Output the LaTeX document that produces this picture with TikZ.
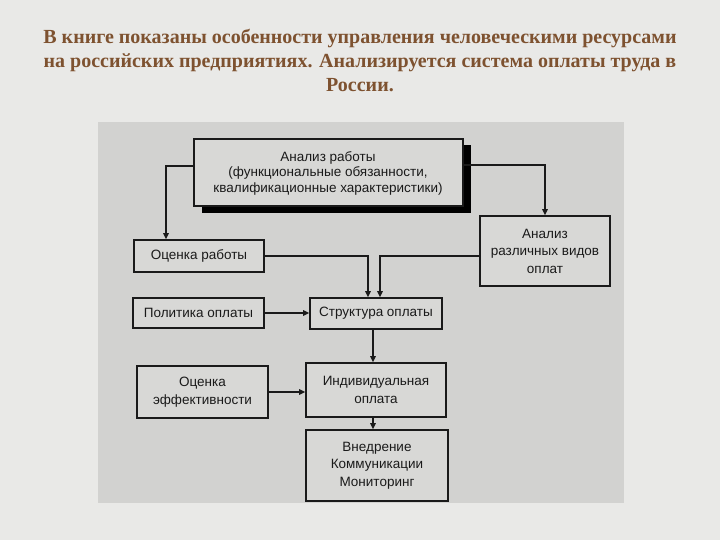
\documentclass[tikz,border=0pt]{standalone}
\usepackage{fontspec}
\setmainfont{Liberation Serif}
\newfontfamily\diagfont{Liberation Sans}
\usetikzlibrary{arrows.meta,calc}
\definecolor{bgcol}{HTML}{E9E9E7}
\definecolor{panelcol}{HTML}{D2D2D0}
\definecolor{boxcol}{HTML}{D8D8D6}
\definecolor{titlecol}{HTML}{7E5230}
\definecolor{inkcol}{HTML}{1A1A1A}
\begin{document}
\begin{tikzpicture}[x=1pt,y=-1pt,
  box/.style={draw=inkcol,line width=1.7pt,fill=boxcol,align=center,inner sep=0pt,
    font=\diagfont\fontsize{13.5}{17.5}\selectfont,text=inkcol},
  arr/.style={draw=inkcol,line width=1.4pt,-{Triangle[length=6pt,width=5.5pt]}}]
\useasboundingbox (0,0) rectangle (720,540);
\fill[bgcol] (0,0) rectangle (720,540);
\fill[panelcol] (98,122) rectangle (624,503);
% title
\node[text=titlecol,font=\bfseries\fontsize{20}{24}\selectfont,align=center] (title) at (360,60)
  {В книге показаны особенности управления человеческими ресурсами\\
   на российских предприятиях. Анализируется система оплаты труда в\\
   России.};
% top box with shadow
\fill[black] (201.6,145.5) rectangle (471,213);
\node[box,line width=2pt,minimum width=269pt,minimum height=67pt,
  font=\diagfont\fontsize{13.5}{15.5}\selectfont] (top) at (328,173)
  {Анализ работы\\(функциональные обязанности,\\квалификационные характеристики)};
\node[box,minimum width=130pt,minimum height=32pt] (ocr) at (199,256) {Оценка работы};
\node[box,minimum width=130pt,minimum height=70pt] (anv) at (545,251) {Анализ\\различных видов\\оплат};
\node[box,minimum width=131pt,minimum height=30pt] (pol) at (198.5,313) {Политика оплаты};
\node[box,minimum width=132pt,minimum height=31pt] (str) at (376,313.5) {Структура оплаты};
\node[box,minimum width=131pt,minimum height=52pt] (eff) at (202.5,392) {Оценка\\эффективности};
\node[box,minimum width=140pt,minimum height=54pt] (ind) at (376,390) {Индивидуальная\\оплата};
\node[box,minimum width=142pt,minimum height=71pt] (vn) at (377,465.5) {Внедрение\\Коммуникации\\Мониторинг};
% connectors
\draw[arr] ([yshift=7pt]top.west) -| ([xshift=-33pt]ocr.north);
\draw[arr] ([yshift=8pt]top.east) -| (anv.north);
\draw[arr] (ocr.east) -| ([xshift=-8pt]str.north);
\draw[arr] ([yshift=-5pt]anv.west) -| ([xshift=4pt]str.north);
\draw[arr] (pol.east) -- (str.west |- pol.east);
\draw[arr] ([xshift=-3pt]str.south) -- ([xshift=-3pt]ind.north);
\draw[arr] (eff.east) -- (ind.west |- eff.east);
\draw[arr] ([xshift=-3pt]ind.south) -- ([xshift=-4pt]vn.north);
\end{tikzpicture}
\end{document}
